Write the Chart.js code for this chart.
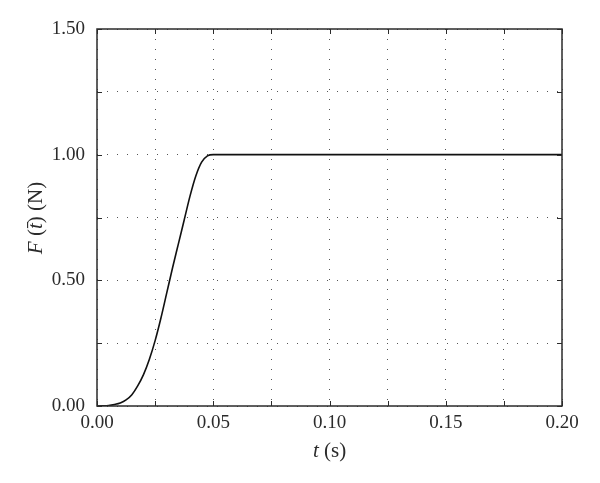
<!DOCTYPE html>
<html>
<head>
<meta charset="utf-8">
<script src="https://cdn.jsdelivr.net/npm/chart.js@4.4.1/dist/chart.umd.min.js"></script>
<style>
  html, body { margin: 0; padding: 0; background: #fff; }
  #wrap { width: 600px; height: 483px; }
</style>
</head>
<body>
<div id="wrap"><canvas id="forceChart" width="600" height="483"></canvas></div>
<script>
// values
const times = [0, 0.0025, 0.005, 0.0075, 0.01, 0.0125, 0.015, 0.0175, 0.02, 0.0225, 0.025,
               0.0275, 0.03, 0.0325, 0.035, 0.0375, 0.04, 0.0425, 0.045, 0.0475, 0.05, 0.20];
const force = [0, 0.0005, 0.002, 0.006, 0.012, 0.024, 0.045, 0.08, 0.125, 0.185, 0.26,
               0.35, 0.45, 0.55, 0.645, 0.74, 0.835, 0.915, 0.97, 0.995, 1.0, 1.0];
const xTicks = [0, 0.05, 0.10, 0.15, 0.20];
const yTicks = [0, 0.50, 1.00, 1.50];

const serif = '"Liberation Serif", "DejaVu Serif", serif';
const inkColor = "#2b2b2b";

// box + inward ticks
const framePlugin = {
    id: "frame",
    afterDraw(chart) {
        const ctx = chart.ctx;
        const a = chart.chartArea;
        const xs = chart.scales.x, ys = chart.scales.y;
        ctx.save();
        ctx.strokeStyle = inkColor;
        ctx.lineWidth = 1.5;
        ctx.setLineDash([]);
        ctx.strokeRect(a.left, a.top, a.right - a.left, a.bottom - a.top);
        ctx.lineWidth = 1;
        const len = 5;
        xs.ticks.forEach(t => {
            const px = Math.round(xs.getPixelForValue(t.value)) + 0.5;
            ctx.beginPath();
            ctx.moveTo(px, a.bottom); ctx.lineTo(px, a.bottom - len);
            ctx.moveTo(px, a.top); ctx.lineTo(px, a.top + len);
            ctx.stroke();
        });
        ys.ticks.forEach(t => {
            const py = Math.round(ys.getPixelForValue(t.value)) + 0.5;
            ctx.beginPath();
            ctx.moveTo(a.left, py); ctx.lineTo(a.left + len, py);
            ctx.moveTo(a.right, py); ctx.lineTo(a.right - len, py);
            ctx.stroke();
        });
        ctx.restore();
    }
};

// axis titles with italic variables
function drawRich(ctx, parts, size) {
    let total = 0;
    parts.forEach(p => {
        ctx.font = (p[1] ? "italic " : "") + size + "px " + serif;
        total += ctx.measureText(p[0]).width;
    });
    let x = -total / 2;
    parts.forEach(p => {
        ctx.font = (p[1] ? "italic " : "") + size + "px " + serif;
        ctx.fillText(p[0], x, 0);
        x += ctx.measureText(p[0]).width;
    });
}

const titlePlugin = {
    id: "titles",
    afterDraw(chart) {
        const ctx = chart.ctx;
        const a = chart.chartArea;
        ctx.save();
        ctx.fillStyle = inkColor;
        ctx.textBaseline = "middle";
        ctx.textAlign = "left";
        ctx.translate((a.left + a.right) / 2, 451);
        drawRich(ctx, [["t", true], [" (s)", false]], 21);
        ctx.restore();

        ctx.save();
        ctx.fillStyle = inkColor;
        ctx.textBaseline = "middle";
        ctx.textAlign = "left";
        ctx.translate(36, 218);
        ctx.rotate(-Math.PI / 2);
        drawRich(ctx, [["F", true], [" (", false], ["t\u0304", true], [") (N)", false]], 21);
        ctx.restore();
    }
};

new Chart(document.getElementById("forceChart"), {
    type: "line",
    data: {
        datasets: [{
            data: times.map((t, i) => ({ x: t, y: force[i] })),
            borderColor: "#111",
            borderWidth: 1.6,
            pointRadius: 0,
            fill: false,
            cubicInterpolationMode: "monotone"
        }]
    },
    options: {
        responsive: false,
        animation: false,
        layout: { padding: { top: 29, right: 38, left: 0, bottom: 0 } },
        plugins: {
            legend: { display: false },
            tooltip: { enabled: false }
        },
        scales: {
            x: {
                type: "linear",
                min: 0,
                max: 0.20,
                afterFit: s => { s.height = 77; },
                ticks: {
                    stepSize: 0.025,
                    padding: 6,
                    color: inkColor,
                    font: { family: serif, size: 19 },
                    maxRotation: 0,
                    autoSkip: false,
                    callback: (v) => {
                        const hit = xTicks.find(t => Math.abs(t - v) < 1e-6);
                        return hit === undefined ? "" : hit.toFixed(2);
                    }
                },
                grid: {
                    color: "#555",
                    lineWidth: 1,
                    drawTicks: false
                },
                border: { display: false, dash: [1, 9] }
            },
            y: {
                min: 0,
                max: 1.5,
                afterFit: s => { s.width = 97; },
                ticks: {
                    stepSize: 0.25,
                    padding: 12,
                    color: inkColor,
                    font: { family: serif, size: 19 },
                    autoSkip: false,
                    callback: (v) => {
                        const hit = yTicks.find(t => Math.abs(t - v) < 1e-6);
                        return hit === undefined ? "" : hit.toFixed(2);
                    }
                },
                grid: {
                    color: "#555",
                    lineWidth: 1,
                    drawTicks: false
                },
                border: { display: false, dash: [1, 9] }
            }
        }
    },
    plugins: [framePlugin, titlePlugin]
});
</script>
</body>
</html>
